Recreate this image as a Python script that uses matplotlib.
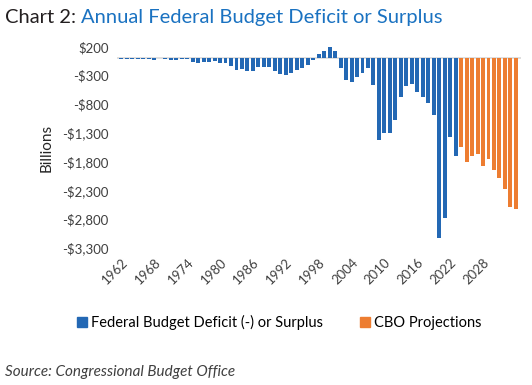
import numpy as np
import matplotlib.pyplot as plt
from matplotlib.patches import Patch

# Annual federal budget deficit (-) or surplus, billions of dollars
hist_years = list(range(1962, 2024))
hist_values = [
    -7.1, -4.8, -5.9, -1.4, -3.7, -8.6, -25.2, 3.2, -2.8, -23.0,
    -23.4, -14.9, -6.1, -53.2, -73.7, -53.7, -59.2, -40.7, -73.8, -79.0,
    -128.0, -207.8, -185.4, -212.3, -221.2, -149.7, -155.2, -152.6, -221.0, -269.2,
    -290.3, -255.1, -203.2, -164.0, -107.4, -21.9, 69.3, 125.6, 236.2, 128.2,
    -157.8, -377.6, -412.7, -318.3, -248.2, -160.7, -458.6, -1412.7, -1294.4, -1299.6,
    -1076.6, -679.8, -484.8, -442.0, -584.7, -665.4, -779.1, -983.6, -3132.5, -2775.3,
    -1375.9, -1695.0,
]

# CBO projections
proj_years = list(range(2024, 2035))
proj_values = [-1537, -1800, -1707, -1666, -1871, -1754, -1947, -2082, -2282, -2593, -2622]

yticks = [200, -300, -800, -1300, -1800, -2300, -2800, -3300]
xticks = list(range(1962, 2034, 6))

blue = "#2368b4"
orange = "#ed7d31"
title_blue = "#1a72c1"

fig = plt.figure(figsize=(5.32, 3.85), dpi=100)
ax = fig.add_axes([0.22, 0.356, 0.759, 0.522])

ax.bar(hist_years, hist_values, width=0.72, color=blue)
ax.bar(proj_years, proj_values, width=0.72, color=orange)
ax.axhline(0, color="#d9d9d9", lw=1.2, zorder=0)

ax.set_ylim(-3300, 200)
ax.set_xlim(1961.2, 2034.9)
ax.set_yticks(yticks)
ax.set_yticklabels([f"${v:,}" if v >= 0 else f"-${-v:,}" for v in yticks],
                   fontsize=9.5, color="#404040", family="Lato")
ax.set_xticks(xticks)
ax.set_xticklabels([str(x) for x in xticks], rotation=45, ha="right",
                   rotation_mode="anchor", fontsize=9.5, color="#404040", family="Lato")
ax.tick_params(length=0, pad=6)
for s in ax.spines.values():
    s.set_visible(False)
ax.set_ylabel("Billions", fontsize=11, color="#262626", family="Lato", labelpad=6)

# two-coloured title
fig.canvas.draw()
t1 = fig.text(0.01, 0.955, "Chart 2: ", fontsize=14.5, color="#231f20",
              family="Lato", va="center")
r = fig.canvas.get_renderer()
bb = t1.get_window_extent(r)
fig.text(bb.x1 / fig.bbox.width, 0.955, "Annual Federal Budget Deficit or Surplus",
         fontsize=14.5, color=title_blue, family="Lato", va="center")

handles = [Patch(color=blue, label="Federal Budget Deficit (-) or Surplus"),
           Patch(color=orange, label="CBO Projections")]
fig.legend(handles=handles, loc="center", bbox_to_anchor=(0.525, 0.163), ncol=2,
           frameon=False, prop={"family": "Lato", "size": 10.5},
           handlelength=0.7, handleheight=0.7, handletextpad=0.3, columnspacing=2.5)

fig.text(0.01, 0.035, "Source: Congressional Budget Office", fontsize=11,
         style="italic", color="#404040", family="Lato", va="center")

fig.savefig("out.png", dpi=100)
